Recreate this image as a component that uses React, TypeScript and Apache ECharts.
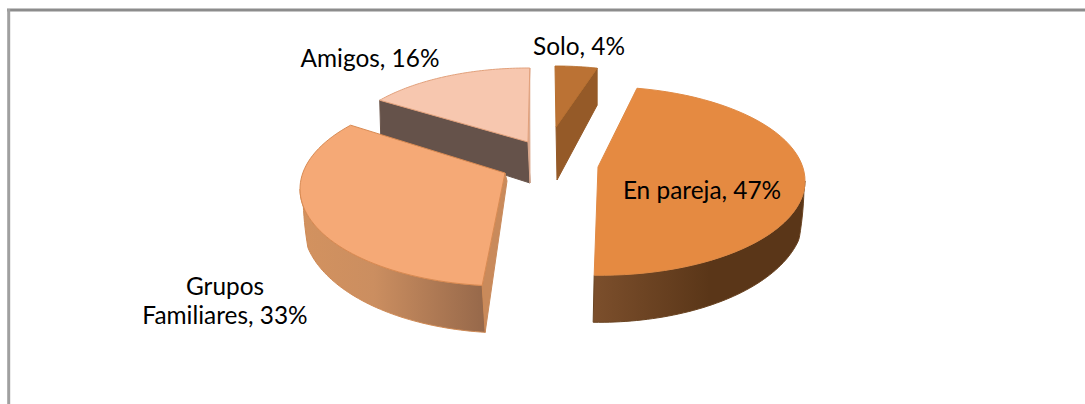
import React, { useEffect, useRef } from "react";
import * as echarts from "echarts";

const categories = ["En pareja", "Grupos Familiares", "Amigos", "Solo"];
const shares = [47, 33, 16, 4];
const labelLines = [["En pareja, 47%"], ["Grupos", "Familiares, 33%"], ["Amigos, 16%"], ["Solo, 4%"]];

const baseAngle = 10.4;
// per-slice projection: ellipse centre, radii, apex, distortion of the perspective
const geometry = [
  { ex: 600, ey: 181, rx: 205, ry: 94.3, ax: 598, ay: 167, bias: 0, scale: 1.012, dFront: 47, dSide: 35, z: 2 },
  { ex: 505, ey: 189, rx: 205, ry: 97, ax: 505, ay: 173, bias: 6.8, scale: 1.05, dFront: 47, dSide: 35, z: 3 },
  { ex: 528, ey: 154, rx: 190, ry: 86, ax: 528, ay: 142, bias: 10.3, scale: 0.9, dFront: 35, dSide: 35, z: 1 },
  { ex: 555, ey: 152, rx: 190, ry: 86, ax: 556, ay: 127, bias: 4, scale: 0.89, dFront: 37, dSide: 37, z: 1 },
];
const topColors = ["#e58a41", "#f5a976", "#f7c7af", "#bb7234"];
const edgeColors = ["#e08a45", "#d98a52", "#e2a17c", "#b8702f"];
const labelPos = [
  { x: 702, y: 189 },
  { x: 225, y: 285 },
  { x: 370, y: 57 },
  { x: 579, y: 45 },
];

function rimPoint(g: any, deg: number) {
  const t = (deg * Math.PI) / 180;
  return [g.ex + g.rx * Math.sin(t), g.ey - g.ry * Math.cos(t)];
}
function depthAt(g: any, deg: number) {
  const c = Math.abs(Math.cos((deg * Math.PI) / 180));
  return g.dSide + (g.dFront - g.dSide) * c;
}

function renderSlice(params: any, api: any) {
  const i = params.dataIndex;
  const g = geometry[i];
  let cum = 0;
  for (let k = 0; k < i; k++) cum += shares[k];
  const start = baseAngle + cum * 3.6 + g.bias;
  const end = start + api.value(0) * 3.6 * g.scale;
  const rim: number[][] = [];
  const steps = 60;
  for (let s = 0; s <= steps; s++) rim.push(rimPoint(g, start + ((end - start) * s) / steps));
  const children: any[] = [];
  const poly = (points: number[][], fill: any, stroke: any, z2: number) =>
    children.push({
      type: "polygon",
      z2,
      shape: { points },
      style: { fill, stroke, lineWidth: 1 },
    });

  const base = g.z * 10;
  if (i === 0) {
    const outer: number[][] = [];
    const from = 90;
    for (let s = 0; s <= steps; s++) {
      const d = from + ((end - from) * s) / steps;
      outer.push(rimPoint(g, d));
    }
    const lower = outer.map((p, n) => {
      const d = from + ((end - from) * n) / steps;
      return [p[0] - 1, p[1] + depthAt(g, d) * Math.min(1, (d - from) / 14 + 0.1)];
    });
    poly(
      outer.concat(lower.reverse()),
      new echarts.graphic.LinearGradient(0, 0, 1, 0, [
        { offset: 0, color: "#7c4f2c" },
        { offset: 0.55, color: "#5a3618" },
        { offset: 1, color: "#5a3618" },
      ]),
      "#6a4422",
      base
    );
  }
  if (i === 1) {
    const endSide = 270;
    const outer: number[][] = [];
    for (let s = 0; s <= steps; s++) {
      const d = start + ((endSide - start) * s) / steps;
      outer.push(rimPoint(g, d));
    }
    const lower = outer.map((p, n) => {
      const d = start + ((endSide - start) * n) / steps;
      return [p[0] + 3, p[1] + depthAt(g, d) * Math.min(1, (endSide - d) / 14 + 0.1)];
    });
    const first = outer[0];
    poly(
      [[g.ax, g.ay], first, [first[0] + 3, first[1] + g.dFront], [g.ax + 2, g.ay + 8]],
      "#c98a5b",
      "#c98a5b",
      base
    );
    poly(
      outer.concat(lower.reverse()),
      new echarts.graphic.LinearGradient(0, 0, 1, 0, [
        { offset: 0, color: "#d3925f" },
        { offset: 0.4, color: "#cb8e60" },
        { offset: 1, color: "#96684a" },
      ]),
      "#cf8a55",
      base + 1
    );
  }
  if (i === 2) {
    const a = rim[0];
    const e = rim[rim.length - 1];
    poly([[g.ax, g.ay], [g.ax + 2, g.ay + 41], [a[0] + 1, a[1] + g.dFront], a], "#65524a", "#6b564c", base);
    poly([e, [e[0], e[1] + 50], [g.ax + 2, g.ay + 41], [g.ax, g.ay]], "#dba98e", "#dba98e", base);
  }
  if (i === 3) {
    const e = rim[rim.length - 1];
    poly([[g.ax, g.ay], e, [e[0], e[1] + g.dFront], [g.ax + 1, g.ay + 53]], "#955a28", "#955a28", base);
  }
  poly([[g.ax, g.ay], ...rim], topColors[i], edgeColors[i], base + 2);

  const pos = labelPos[i];
  labelLines[i].forEach((line, n) => {
    children.push({
      type: "text",
      z2: 100,
      style: {
        x: pos.x,
        y: pos.y + n * 29,
        text: line,
        fill: "#000",
        font: '24.4px Lato, "Open Sans", sans-serif',
        align: "center",
        verticalAlign: "middle",
      },
    });
  });
  return { type: "group", children };
}

export default function App() {
  const ref = useRef<HTMLDivElement>(null);
  useEffect(() => {
    const chart = echarts.init(ref.current!, null, { renderer: "svg" });
    chart.setOption({
      animation: false,
      backgroundColor: "#fff",
      series: [
        {
          type: "custom",
          coordinateSystem: "none",
          renderItem: renderSlice,
          data: shares.map((v, i) => ({ name: categories[i], value: [v] })),
          silent: true,
        },
      ],
      graphic: [
        {
          type: "line",
          shape: { x1: 7, y1: 10, x2: 1085, y2: 10 },
          style: { stroke: "#8c8c8c", lineWidth: 3 },
          silent: true,
        },
        {
          type: "line",
          shape: { x1: 8.7, y1: 9, x2: 8.7, y2: 404 },
          style: { stroke: "#a0a0a0", lineWidth: 3 },
          silent: true,
        },
      ],
    });
    return () => chart.dispose();
  }, []);
  return <div ref={ref} style={{ position: "absolute", left: 0, top: 0, width: 1085, height: 404 }} />;
}
